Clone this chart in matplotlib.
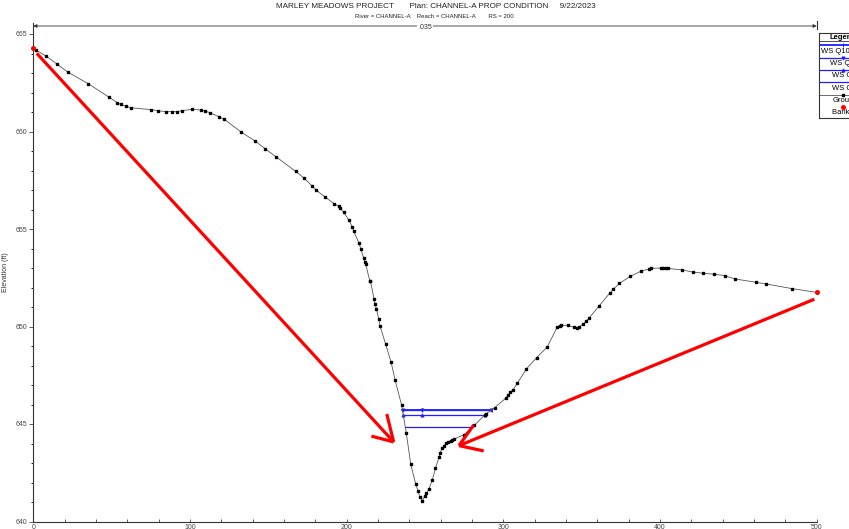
"""HEC-RAS style cross section plot, Marley Meadows RS 200."""

import numpy as np
import matplotlib.pyplot as plt

plt.rcParams['font.family'] = ['Liberation Sans', 'DejaVu Sans']

# ground profile (station ft, elevation ft)
station = [0, 1.7, 8.1, 15.3, 21.9, 35.1, 48.5, 53.6, 55.7, 59.1, 62.1, 75.3, 79.3,
           84.6, 88.3, 91.6, 95.0, 101.6, 107.1, 109.7, 112.9, 118.4, 121.6, 132.7,
           141.6, 148.2, 154.8, 167.5, 173.0, 178.0, 180.5, 186.0, 192.0, 195.0,
           196.0, 198.0, 201.5, 203.5, 204.5, 207.9, 209.0, 210.9, 211.7, 212.2,
           214.7, 215.2, 217.5, 218.1, 219.0, 220.5, 221.3, 224.9, 228.3, 230.9,
           235.1, 238.1, 240.9, 244.1, 245.6, 246.7, 248.3, 249.8, 250.9, 252.4,
           254.7, 256.7, 259.0, 259.6, 261.1, 262.0, 263.6, 264.7, 266.4, 267.5,
           268.3, 274.7, 281.5, 288.3, 289.2, 294.5, 301.9, 303.2, 304.5, 306.1,
           309.0, 314.7, 321.2, 328.0, 334.4, 335.9, 337.1, 341.0, 345.0, 346.9,
           348.0, 351.0, 353.0, 354.6, 361.0, 367.8, 370.3, 374.1, 380.9, 387.7,
           392.8, 394.3, 400.7, 402.2, 403.9, 404.9, 414.2, 421.0, 427.7, 434.5,
           441.2, 447.7, 461.1, 467.8, 484.4, 500.0]
elevation = [664.27, 664.18, 663.87, 663.45, 663.05, 662.45, 661.75, 661.48, 661.39,
             661.29, 661.22, 661.12, 661.07, 661.02, 661.02, 661.02, 661.07, 661.14,
             661.10, 661.05, 660.96, 660.76, 660.64, 659.97, 659.51, 659.10, 658.71,
             657.95, 657.60, 657.20, 657.00, 656.65, 656.30, 656.16, 656.08, 655.86,
             655.45, 655.12, 654.88, 654.27, 653.99, 653.51, 653.31, 653.19, 652.35,
             652.32, 651.40, 651.15, 650.90, 650.37, 650.03, 649.09, 648.19, 647.26,
             645.96, 644.52, 642.93, 641.91, 641.56, 641.27, 641.07, 641.31, 641.45,
             641.65, 642.14, 642.73, 643.32, 643.53, 643.75, 643.87, 644.04, 644.09,
             644.14, 644.19, 644.22, 644.44, 644.93, 645.48, 645.53, 645.84, 646.35,
             646.50, 646.64, 646.74, 647.10, 647.82, 648.40, 648.95, 649.97, 650.04,
             650.06, 650.06, 649.96, 649.94, 649.96, 650.13, 650.27, 650.42, 651.04,
             651.70, 651.92, 652.21, 652.57, 652.83, 652.95, 652.98, 653.00, 653.00,
             652.98, 652.98, 652.90, 652.79, 652.73, 652.68, 652.61, 652.44, 652.27,
             652.18, 651.94, 651.75]

bank_station = [0, 500]
bank_elev = [664.27, 651.75]

ws_names = ['WS Q100', 'WS Q10', 'WS Q5', 'WS Q2']
ws_elev = [645.72, 645.70, 645.46, 644.85]
ws_marker = ['|', 'v', '^', '']
ws_width = [1.3, 0.9, 0.9, 0.9]

title = "MARLEY MEADOWS PROJECT       Plan: CHANNEL-A PROP CONDITION     9/22/2023"
subtitle = "River = CHANNEL-A    Reach = CHANNEL-A        RS = 200"
mannings_n = '.035'

# red markup arrows: (tail, tip, arm1, arm2) in station/elevation
markup = [
    [(2.2, 664.01), (230.0, 644.08), (225.6, 645.51), (215.8, 644.38)],
    [(498.5, 651.40), (271.7, 643.89), (281.1, 644.95), (287.5, 643.62)],
]

W, H = 849, 529
fig = plt.figure(figsize=(W / 100, H / 100), dpi=100)
x0, x1, ytop, ybot = 33.3, 816.7, 23.0, 521.5
ax = fig.add_axes([x0 / W, (H - ybot) / H, (x1 - x0) / W, (ybot - ytop) / H])
ax.set_xlim(0, 500)
ax.set_ylim(640, 640 + (ybot - ytop) / 19.5)

# water surfaces, limited by the ground on both sides of the channel
st = np.array(station)
el = np.array(elevation)
lo = np.argmin(el)
left_st, left_el = st[:lo + 1][::-1], el[:lo + 1][::-1]
right_st, right_el = st[lo:], el[lo:]
for name, wse, mk, lw in zip(ws_names, ws_elev, ws_marker, ws_width):
    xl = np.interp(wse, left_el, left_st)
    xr = np.interp(wse, right_el, right_st)
    ax.plot([xl, xr], [wse, wse], color='#1f1fff', lw=lw, zorder=2)
    if mk:
        ax.plot([xl, 247.9, xr], [wse] * 3, ls='none', marker=mk, ms=2.2,
                color='#1f1fff', mew=0.7, zorder=2)

ax.plot(station, elevation, color='#555555', lw=0.6, marker='s', ms=1.8,
        mfc='black', mec='black', zorder=3)
ax.plot(bank_station, bank_elev, ls='none', marker='o', ms=2.6, color='red',
        zorder=4, clip_on=False)

# roughness bar along the top
y_n = 640 + (ybot - 26) / 19.5
ax.annotate('', xy=(0, y_n), xytext=(500, y_n),
            arrowprops=dict(arrowstyle='<|-|>', lw=0.6, color='#333333',
                            mutation_scale=5, shrinkA=0, shrinkB=0))
ax.plot([500, 500], [y_n - 0.15, y_n + 0.25], color='#333333', lw=0.8, clip_on=False)
ax.text(250, y_n - 0.08, mannings_n, ha='center', va='center', fontsize=5,
        color='#333333', bbox=dict(fc='white', ec='none', pad=0.6))

for tail, tip, a1, a2 in markup:
    for p in (tail, a1, a2):
        ax.plot([p[0], tip[0]], [p[1], tip[1]], color='red', lw=2.3,
                solid_capstyle='butt', zorder=5, clip_on=False)

ax.spines['top'].set_visible(False)
ax.spines['right'].set_visible(False)
for s in ('left', 'bottom'):
    ax.spines[s].set_linewidth(0.8)
    ax.spines[s].set_color('#333333')
ax.set_xticks(np.arange(0, 501, 100))
ax.set_xticks(np.arange(0, 501, 20), minor=True)
ax.set_yticks(np.arange(640, 666, 5))
ax.set_yticks(np.arange(640, 666, 1), minor=True)
ax.tick_params(axis='x', which='both', direction='in', length=2, width=0.6,
               labelsize=5, pad=2, colors='#444444')
ax.tick_params(axis='y', which='major', direction='out', length=3, width=0.6,
               labelsize=5, pad=1, colors='#444444')
ax.tick_params(axis='y', which='minor', direction='out', length=1.5, width=0.6)
fig.text(6 / W, 1 - 272 / H, 'Elevation (ft)', rotation=90, ha='center',
         va='center', fontsize=5, color='#333333')

fig.text(436 / W, 1 - 7 / H, title, ha='center', va='center', fontsize=5.9,
         color='#222222')
fig.text(434 / W, 1 - 16 / H, subtitle, ha='center', va='center', fontsize=4.3,
         color='#222222')

# legend box, cut by the right edge of the page like the original
lg = fig.add_axes([819.3 / W, (H - 118.3) / H, 80 / W, 85 / H])
lg.set_xlim(819.3, 899.3)
lg.set_ylim(118.3, 33.3)
lg.set_xticks([])
lg.set_yticks([])
for s in lg.spines.values():
    s.set_linewidth(0.8)
    s.set_color('#333333')
lg.text(830, 37, 'Legend', fontsize=5.5, fontweight='bold', va='center', ha='left')
lg.plot([819.3, 899.3], [40.7, 40.7], color='#333333', lw=0.6)
leg_y = [45, 58.3, 70, 82]
lab_y = [51, 63.3, 75.7, 88.3]
lab_x = [821, 830, 832, 832]
for name, mk, lw, ly, ty, tx in zip(ws_names, ws_marker, ws_width, leg_y, lab_y, lab_x):
    lg.plot([819.3, 899.3], [ly, ly], color='#1f1fff', lw=lw)
    if mk:
        lg.plot([843], [ly], marker=mk, ms=2.2, color='#1f1fff', mew=0.7)
    lg.text(tx, ty, name + ' Yr', fontsize=5.5, va='center', ha='left')
lg.plot([819.3, 899.3], [95, 95], color='#555555', lw=0.6)
lg.plot([843], [95], marker='s', ms=1.8, color='black')
lg.text(833, 100.5, 'Ground', fontsize=5.5, va='center', ha='left')
lg.plot([843], [107.3], marker='o', ms=2.6, color='red')
lg.text(832, 112.7, 'Bank Sta', fontsize=5.5, va='center', ha='left')

fig.savefig('out.png', dpi=100)
plt.close(fig)
